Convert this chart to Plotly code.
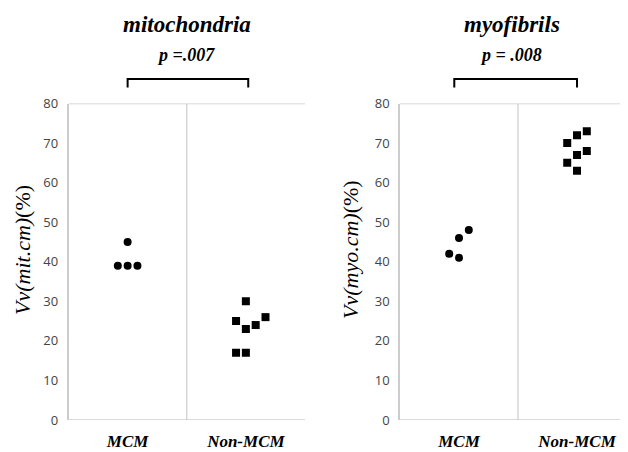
import plotly.graph_objects as go

# ---- data ----
categories = ["MCM", "Non-MCM"]
panel_titles = ["mitochondria", "myofibrils"]
p_labels = ["p =.007", "p = .008"]
y_titles = ["Vv(mit.cm)", "Vv(myo.cm)"]
y_unit = "(%)"
y_ticks = [0, 10, 20, 30, 40, 50, 60, 70, 80]

mito_mcm = [45, 39, 39, 39]
mito_mcm_col = [0, -1, 0, 1]
mito_non = [30, 25, 23, 24, 26, 17, 17]
mito_non_col = [0, -1, 0, 1, 2, -1, 0]

myo_mcm = [42, 41, 46, 48]
myo_mcm_col = [-1, 0, 0, 1]
myo_non = [70, 72, 73, 65, 67, 68, 63]
myo_non_col = [-1, 0, 1, -1, 0, 1, 0]

COL_STEP = 0.083
# page body has an 8px margin, so the figure is sized to fit the window
OFF = 8
W, H = 628 - OFF, 452 - OFF

def py(y):
    return 1 - (y - OFF) / H

def pxx(x):
    return (x - OFF) / W

fig = go.Figure()

def add_points(vals, cols, cat, symbol, xa, ya):
    fig.add_trace(go.Scatter(
        x=[cat + c * COL_STEP for c in cols], y=vals, mode="markers",
        marker=dict(symbol=symbol, size=8, color="black", line=dict(width=0)),
        xaxis=xa, yaxis=ya, showlegend=False, hoverinfo="y"))

add_points(mito_mcm, mito_mcm_col, 0, "circle", "x", "y")
add_points(mito_non, mito_non_col, 1, "square", "x", "y")
add_points(myo_mcm, myo_mcm_col, 0, "circle", "x2", "y2")
add_points(myo_non, myo_non_col, 1, "square", "x2", "y2")

grid = "#cccccc"
ydom = [py(420), py(103.5)]
tickfont = dict(family="Open Sans, sans-serif", size=13, color="#444")
xtickfont = dict(family="Liberation Serif, serif", size=17, color="black")
ytitlefont = dict(family="Liberation Serif, serif", size=22, color="black")

def xaxis(dom, rng):
    return dict(domain=dom, range=rng, tickvals=[0, 1],
                ticktext=["<b><i>%s</i></b>" % c for c in categories],
                tickfont=xtickfont, showgrid=False, zeroline=False,
                showline=False, ticks="", ticklabelstandoff=9, fixedrange=True,
                automargin=False)

def yaxis(anchor):
    return dict(domain=ydom, range=[0, 80], tickvals=y_ticks, tickfont=tickfont,
                showgrid=False, zeroline=False, showline=True, linecolor=grid,
                linewidth=1.5, ticks="", ticklabelstandoff=6, anchor=anchor,
                automargin=False)

fig.update_layout(
    width=W, height=H, margin=dict(l=0, r=0, t=0, b=0, autoexpand=False),
    paper_bgcolor="white", plot_bgcolor="white",
    xaxis=xaxis([pxx(68.5), pxx(305)], [-0.5, 1.5]),
    yaxis=yaxis("x"),
    xaxis2=xaxis([pxx(400), 1.0], [-0.5, 1.432]),
    yaxis2=yaxis("x2"),
    yaxis3=dict(domain=ydom, range=[0, 80], tickvals=y_ticks, overlaying="y",
                side="right", anchor="x", showticklabels=False, ticks="inside",
                ticklen=4, tickcolor=grid, showline=True, linecolor=grid,
                linewidth=1.5, showgrid=False, zeroline=False, automargin=False),
)

shapes = []
for xr, yr, right_x in (("x", "y", 1.5), ("x2", "y2", 1.432)):
    for yv in (0, 80):
        shapes.append(dict(type="line", xref=xr, yref=yr, x0=-0.5, x1=right_x,
                           y0=yv, y1=yv, line=dict(color=grid, width=1.5)))
    shapes.append(dict(type="line", xref=xr, yref=yr, x0=0.5, x1=0.5,
                       y0=0, y1=80, line=dict(color=grid, width=1.2)))

for xr, x0, x1 in (("x", 0.0, 1.02), ("x2", -0.04, 1.0)):
    shapes.append(dict(type="path", xref=xr, yref="paper",
                       path="M %f,%f L %f,%f L %f,%f L %f,%f" % (
                           x0, py(87.5), x0, py(79), x1, py(79), x1, py(87.5)),
                       line=dict(color="black", width=2)))
fig.update_layout(shapes=shapes)

annotations = []
for xr, cx, t, p in (("x", 0.5, panel_titles[0], p_labels[0]),
                     ("x2", 0.45, panel_titles[1], p_labels[1])):
    annotations.append(dict(xref=xr, yref="paper", x=cx, y=py(25), yanchor="middle",
                            text="<b><i>%s</i></b>" % t, showarrow=False,
                            font=dict(family="Liberation Serif, serif", size=23, color="black")))
    annotations.append(dict(xref=xr, yref="paper", x=cx - 0.01, y=py(55), yanchor="middle",
                            text="<b><i>%s</i></b>" % p, showarrow=False,
                            font=dict(family="Liberation Serif, serif", size=18, color="black")))
for xpos, t in ((22, y_titles[0]), (350, y_titles[1])):
    annotations.append(dict(xref="paper", yref="paper", x=pxx(xpos), y=py(250),
                            xanchor="center", yanchor="middle", textangle=-90,
                            text="<i>%s</i>%s" % (t, y_unit), showarrow=False, font=ytitlefont))
fig.update_layout(annotations=annotations)

fig.write_html("out.html")
